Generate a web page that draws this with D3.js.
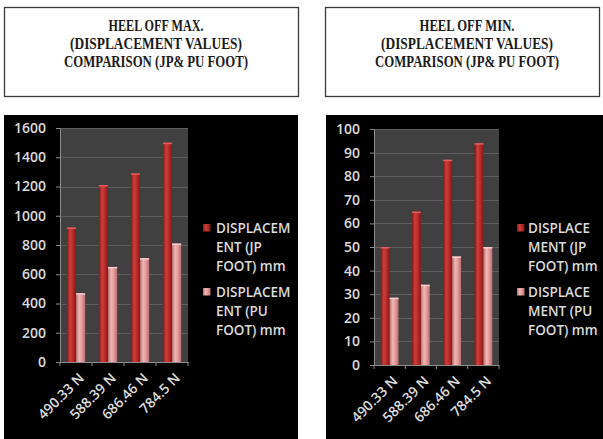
<!DOCTYPE html>
<html>
<head>
<meta charset="utf-8">
<script src="https://cdn.jsdelivr.net/npm/d3@7"></script>
<style>
  body { margin: 0; background: #fff; }
  svg { display: block; }
  .tick text { font-family: "Open Sans", Lato, sans-serif; }
</style>
</head>
<body>
<script>
// categories (applied load)
var categories = ["490.33 N", "588.39 N", "686.46 N", "784.5 N"];

// heel off max displacement
var maxJP = [920, 1210, 1290, 1500];
var maxPU = [470, 650, 710, 810];
var maxTicks = [0, 200, 400, 600, 800, 1000, 1200, 1400, 1600];

// heel off min displacement
var minJP = [50, 65, 87, 94];
var minPU = [28.5, 34, 46, 50];
var minTicks = [0, 10, 20, 30, 40, 50, 60, 70, 80, 90, 100];

var maxTitle = ["HEEL OFF MAX.", "(DISPLACEMENT VALUES)", "COMPARISON (JP& PU FOOT)"];
var minTitle = ["HEEL OFF MIN.", "(DISPLACEMENT VALUES)", "COMPARISON (JP& PU FOOT)"];

var maxLegend = [["DISPLACEM", "ENT (JP", "FOOT) mm"], ["DISPLACEM", "ENT (PU", "FOOT) mm"]];
var minLegend = [["DISPLACE", "MENT (JP", "FOOT) mm"], ["DISPLACE", "MENT (PU", "FOOT) mm"]];

var width = 603,
    height = 439;

var font = "'Open Sans', Lato, sans-serif";
var textColor = "#dcdcdc";

var svg = d3.select("body").append("svg")
    .attr("width", width)
    .attr("height", height);

// bar gradients (cylinder look)
var defs = svg.append("defs");
function grad(id, edge, mid, light) {
    var g = defs.append("linearGradient").attr("id", id)
        .attr("x1", "0%").attr("x2", "100%").attr("y1", "0%").attr("y2", "0%");
    g.append("stop").attr("offset", "0%").attr("stop-color", edge);
    g.append("stop").attr("offset", "35%").attr("stop-color", light);
    g.append("stop").attr("offset", "65%").attr("stop-color", mid);
    g.append("stop").attr("offset", "100%").attr("stop-color", edge);
}
grad("gradJP", "#801818", "#b82c2a", "#cf3e3a");
grad("gradPU", "#b86e6e", "#e29a9a", "#f2b6b4");

var colors = ["url(#gradJP)", "url(#gradPU)"];

function drawPanel(opt) {
    // title box
    svg.append("rect")
        .attr("x", opt.boxX + 0.5)
        .attr("y", 7.5)
        .attr("width", opt.boxW)
        .attr("height", 89)
        .attr("fill", "#fff")
        .attr("stroke", "#3a3a3a")
        .attr("stroke-width", 1.3);

    // title lines, squeezed horizontally like the scanned original
    var titleWidths = [95, 172, 184];
    opt.title.forEach(function(line, i) {
        var cx = opt.boxX + opt.boxW / 2 + 5,
            cy = 31 + i * 17.8;
        var t = svg.append("text")
            .attr("text-anchor", "middle")
            .attr("font-family", "'Liberation Serif', 'Times New Roman', serif")
            .attr("font-size", 16)
            .attr("font-weight", "bold")
            .attr("fill", "#1a1a1a")
            .text(line);
        var sx = titleWidths[i] / t.node().getComputedTextLength();
        t.attr("transform", "translate(" + cx + "," + cy + ") scale(" + sx + ",1)");
    });

    // black chart area
    svg.append("rect")
        .attr("x", opt.areaX)
        .attr("y", 115)
        .attr("width", opt.areaW)
        .attr("height", height - 115)
        .attr("fill", "#000");

    var x = d3.scaleBand()
        .domain(categories)
        .range([opt.left, opt.right]);

    var y = d3.scaleLinear()
        .domain([0, d3.max(opt.ticks)])
        .range([opt.bottom, opt.top]);

    var g = svg.append("g");

    // plot background
    g.append("rect")
        .attr("x", opt.left)
        .attr("y", opt.top)
        .attr("width", opt.right - opt.left)
        .attr("height", opt.bottom - opt.top)
        .attr("fill", "#404040");

    // gridlines
    g.selectAll(".grid")
        .data(opt.ticks.slice(1))
        .enter().append("line")
        .attr("x1", opt.left)
        .attr("x2", opt.right)
        .attr("y1", function(d) { return Math.round(y(d)) + 0.5; })
        .attr("y2", function(d) { return Math.round(y(d)) + 0.5; })
        .attr("stroke", "#5e5e5e")
        .attr("stroke-width", 1);

    // bars
    var bw = x.bandwidth() / 3.5;
    var series = [opt.jp, opt.pu];
    series.forEach(function(vals, s) {
        g.selectAll(".bar" + s)
            .data(vals)
            .enter().append("rect")
            .attr("x", function(d, i) { return x(categories[i]) + bw * 0.75 + s * bw; })
            .attr("y", function(d) { return y(d); })
            .attr("width", bw)
            .attr("height", function(d) { return opt.bottom - y(d); })
            .attr("fill", colors[s]);
        // lighter top cap
        g.selectAll(".cap" + s)
            .data(vals)
            .enter().append("rect")
            .attr("x", function(d, i) { return x(categories[i]) + bw * 0.75 + s * bw; })
            .attr("y", function(d) { return y(d); })
            .attr("width", bw)
            .attr("height", 1.5)
            .attr("fill", s == 0 ? "#e06060" : "#f8cccc");
    });

    // y axis
    var yAxis = g.append("g")
        .attr("transform", "translate(" + opt.left + ",0)")
        .call(d3.axisLeft(y).tickValues(opt.ticks).tickFormat(d3.format("d")).tickSize(4).tickPadding(10));
    yAxis.select(".domain").attr("stroke", "#8c8c8c");
    yAxis.selectAll(".tick line").attr("stroke", "#8c8c8c");
    yAxis.selectAll(".tick text")
        .attr("fill", textColor)
        .attr("font-size", 14)
        .attr("font-weight", 600);

    // x axis
    var xAxis = g.append("g")
        .attr("transform", "translate(0," + opt.bottom + ")")
        .call(d3.axisBottom(x).tickSize(0).tickFormat(""));
    xAxis.select(".domain").attr("stroke", "#8c8c8c");
    xAxis.selectAll(".tick").remove();

    // tick marks at band boundaries
    g.selectAll(".xtick")
        .data(categories.concat(["end"]))
        .enter().append("line")
        .attr("x1", function(d, i) { return i < categories.length ? x(d) : opt.right; })
        .attr("x2", function(d, i) { return i < categories.length ? x(d) : opt.right; })
        .attr("y1", opt.bottom)
        .attr("y2", opt.bottom + 4)
        .attr("stroke", "#8c8c8c");

    // category labels
    g.selectAll(".xlab")
        .data(categories)
        .enter().append("text")
        .attr("transform", function(d) {
            return "translate(" + (x(d) + x.bandwidth() / 2 + 9) + "," + (opt.bottom + 17) + ") rotate(-45)";
        })
        .attr("text-anchor", "end")
        .attr("font-family", font)
        .attr("font-size", 14)
        .attr("font-weight", 600)
        .attr("fill", textColor)
        .text(function(d) { return d; });

    // legend
    opt.legend.forEach(function(lines, s) {
        var ly = 233 + s * 64;
        g.append("rect")
            .attr("x", opt.legX)
            .attr("y", ly - 9)
            .attr("width", 7.5)
            .attr("height", 7.5)
            .attr("fill", colors[s]);
        lines.forEach(function(t, j) {
            g.append("text")
                .attr("x", opt.legTextX)
                .attr("y", ly + j * 19)
                .attr("font-family", font)
                .attr("font-size", 13.5)
                .attr("font-weight", 600)
                .attr("fill", textColor)
                .text(t);
        });
    });
}

drawPanel({
    boxX: 4, boxW: 294,
    areaX: 4, areaW: 294,
    left: 60, right: 188, top: 128, bottom: 362,
    ticks: maxTicks, jp: maxJP, pu: maxPU,
    title: maxTitle, legend: maxLegend, legX: 203, legTextX: 216
});

drawPanel({
    boxX: 325, boxW: 274,
    areaX: 326, areaW: 277,
    left: 374, right: 499, top: 129, bottom: 365,
    ticks: minTicks, jp: minJP, pu: minPU,
    title: minTitle, legend: minLegend, legX: 517, legTextX: 528
});
</script>
</body>
</html>
